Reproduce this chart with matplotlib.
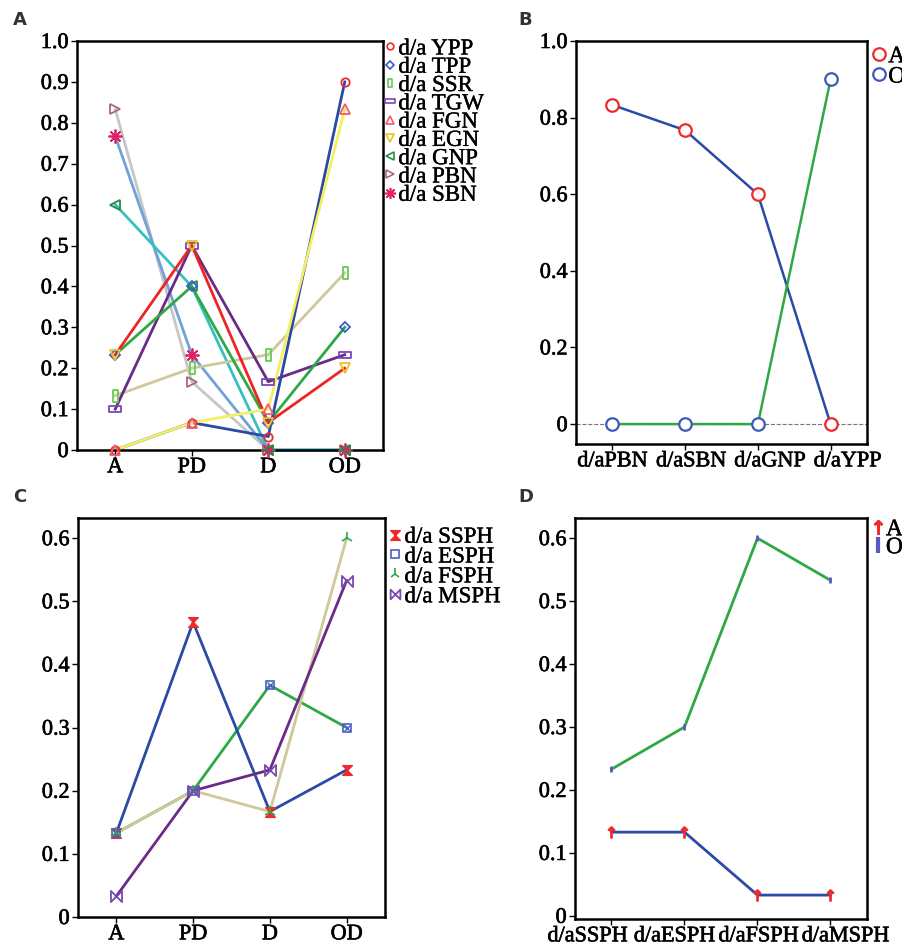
import numpy as np
import matplotlib
matplotlib.use('Agg')
import matplotlib.pyplot as plt
import matplotlib.patheffects as pe
import matplotlib.transforms as mtransforms
from matplotlib.lines import Line2D
from matplotlib.path import Path

plt.rcParams['font.family'] = ['Liberation Serif', 'DejaVu Serif']

# --- panel A / C categories
stages = ['A', 'PD', 'D', 'OD']

# --- panel A: d/a ratios per trait
a_labels = ['d/a YPP', 'd/a TPP', 'd/a SSR', 'd/a TGW', 'd/a FGN',
            'd/a EGN', 'd/a GNP', 'd/a PBN', 'd/a SBN']
ypp = [0.0, 0.067, 0.033, 0.9]
tpp = [0.233, 0.4, 0.067, 0.3]
ssr = [0.133, 0.2, 0.233, 0.433]
tgw = [0.1, 0.5, 0.167, 0.233]
fgn = [0.0, 0.067, 0.1, 0.833]
egn = [0.233, 0.5, 0.067, 0.2]
gnp = [0.6, 0.4, 0.0, 0.0]
pbn = [0.833, 0.167, 0.0, 0.0]
sbn = [0.767, 0.233, 0.0, 0.0]
a_ticks = [0, 0.1, 0.2, 0.3, 0.4, 0.5, 0.6, 0.7, 0.8, 0.9, 1.0]
a_ticklabels = ['0', '0.1', '0.2', '0.3', '0.4', '0.5', '0.6', '0.7', '0.8', '0.9', '1.0']

# --- panel B
b_cats = ['d/aPBN', 'd/aSBN', 'd/aGNP', 'd/aYPP']
b_A = [0.833, 0.767, 0.6, 0.0]
b_O = [0.0, 0.0, 0.0, 0.9]
b_ticks = [0, 0.2, 0.4, 0.6, 0.8, 1.0]
b_ticklabels = ['0', '0.2', '0.4', '0.6', '0.8', '1.0']

# --- panel C
c_labels = ['d/a SSPH', 'd/a ESPH', 'd/a FSPH', 'd/a MSPH']
ssph = [0.133, 0.467, 0.167, 0.233]
esph = [0.133, 0.2, 0.367, 0.3]
fsph = [0.133, 0.2, 0.167, 0.6]
msph = [0.033, 0.2, 0.233, 0.533]
c_ticks = [0, 0.1, 0.2, 0.3, 0.4, 0.5, 0.6]
c_ticklabels = ['0', '0.1', '0.2', '0.3', '0.4', '0.5', '0.6']

# --- panel D
d_cats = ['d/aSSPH', 'd/aESPH', 'd/aFSPH', 'd/aMSPH']
d_A = [0.133, 0.133, 0.033, 0.033]
d_O = [0.233, 0.3, 0.6, 0.533]

# custom marker shapes
tall_rect = Path([(-0.45, -1), (0.45, -1), (0.45, 1), (-0.45, 1), (-0.45, -1)],
                 [Path.MOVETO, Path.LINETO, Path.LINETO, Path.LINETO, Path.CLOSEPOLY])
wide_rect = Path([(-1, -0.45), (1, -0.45), (1, 0.45), (-1, 0.45), (-1, -0.45)],
                 [Path.MOVETO, Path.LINETO, Path.LINETO, Path.LINETO, Path.CLOSEPOLY])
hourglass = Path([(-1, 1), (1, 1), (-1, -1), (1, -1), (-1, 1)],
                 [Path.MOVETO, Path.LINETO, Path.LINETO, Path.LINETO, Path.CLOSEPOLY])
bowtie = Path([(-1, 1), (1, -1), (1, 1), (-1, -1), (-1, 1)],
              [Path.MOVETO, Path.LINETO, Path.LINETO, Path.LINETO, Path.CLOSEPOLY])

TICK_FS = 16
LEG_FS = 16.5
heavy = [pe.withStroke(linewidth=0.45, foreground='black')]


def style_axes(ax, xlabels, yticks, ylabels, ylim, xfs=TICK_FS, xshift=None):
    x = np.arange(len(xlabels))
    ax.set_xlim(-0.5, 3.5)
    ax.set_ylim(*ylim)
    ax.set_xticks(x)
    ax.set_xticklabels(xlabels, fontsize=xfs)
    ax.set_yticks(yticks)
    ax.set_yticklabels(ylabels, fontsize=TICK_FS)
    ax.tick_params(direction='out', length=4, width=1, pad=2)
    for t in ax.get_xticklabels() + ax.get_yticklabels():
        t.set_path_effects(heavy)
    # long category names sit spread a little wider than the ticks
    if xshift is not None:
        for t, dx in zip(ax.get_xticklabels(), xshift):
            off = mtransforms.ScaledTranslation(dx / 100.0, 0, ax.figure.dpi_scale_trans)
            t.set_transform(t.get_transform() + off)
    for sp in ax.spines.values():
        sp.set_linewidth(1.8)


def legend_heavy(leg):
    for t in leg.get_texts():
        t.set_path_effects([pe.withStroke(linewidth=0.3, foreground='black')])


fig = plt.figure(figsize=(9.03, 9.48), dpi=100)
W, H = 903.0, 948.0


def add_ax(l, t, r, b):
    return fig.add_axes([l / W, 1 - b / H, (r - l) / W, (b - t) / H])


# ---------------- panel A
axA = add_ax(77, 41, 383, 450)
xa = np.arange(len(stages))
a_series = [ypp, tpp, ssr, tgw, fgn, egn, gnp, pbn, sbn]
a_line_col = ['#2b4aa3', '#2ea844', '#cfc89a', '#6b2a87', '#f4ee62',
              '#ee2424', '#35c0c2', '#c6c6c6', '#6fa2da']
a_mark_col = ['#ee2a2a', '#3a5ad0', '#66cc55', '#7a48b0', '#f05a6a',
              '#f0c020', '#2a8a48', '#a86878', '#dd2266']
a_markers = ['o', 'D', tall_rect, wide_rect, '^', 'v', '<', '>', (8, 2, 0)]
a_msize = [6, 5, 8, 9, 7, 7, 7, 7, 10]
order = [7, 8, 6, 2, 3, 1, 5, 0, 4]
for i in order:
    axA.plot(xa, a_series[i], color=a_line_col[i], lw=2, zorder=2, clip_on=False)
    axA.plot(xa, a_series[i], ls='none', marker=a_markers[i], ms=a_msize[i],
             mfc='none', mec=a_mark_col[i], mew=1.3, zorder=3, clip_on=False)
style_axes(axA, stages, a_ticks, a_ticklabels, (0, 1.0))
hA = [Line2D([], [], ls='none', marker=a_markers[i], ms=a_msize[i] * 0.8,
             mfc='none', mec=a_mark_col[i], mew=1.2) for i in range(len(a_labels))]
legA = axA.legend(hA, a_labels, loc='upper left', bbox_to_anchor=(1.0, 1.012),
                  frameon=False, fontsize=LEG_FS, handlelength=0.45, handletextpad=0.12,
                  labelspacing=-0.12, borderpad=0, borderaxespad=0.1)
legend_heavy(legA)

# ---------------- panel B
axB = add_ax(576, 41, 867, 444)
xb = np.arange(len(b_cats))
axB.axhline(0, color='#777777', lw=0.8, ls='--', zorder=1)
axB.plot(xb, b_A, color='#2b4aa3', lw=1.8, zorder=2)
axB.plot(xb, b_O, color='#2ea844', lw=1.8, zorder=2)
axB.plot(xb, b_A, ls='none', marker='o', ms=9, mfc='white', mec='#ee2a2a', mew=1.6, zorder=3)
axB.plot(xb, b_O, ls='none', marker='o', ms=9, mfc='white', mec='#3a5ab8', mew=1.6, zorder=3)
style_axes(axB, b_cats, b_ticks, b_ticklabels, (-0.052, 1.0), xfs=16,
           xshift=[0, 6, 12, 17])
hB = [Line2D([], [], ls='none', marker='o', ms=9, mfc='none', mec=c, mew=1.6)
      for c in ['#ee2a2a', '#3a5ab8']]
legB = axB.legend(hB, ['A', 'O'], loc='upper left', bbox_to_anchor=(1.0, 1.0),
                  frameon=False, fontsize=17, handlelength=0.6, handletextpad=0.1,
                  labelspacing=-0.05, borderpad=0, borderaxespad=0.2)
legend_heavy(legB)

# ---------------- panel C
axC = add_ax(78, 518, 385, 917)
xc = np.arange(len(stages))
c_series = [ssph, esph, fsph, msph]
c_line_col = ['#2b4aa3', '#2ea844', '#cfc89a', '#6b2a87']
c_mark_col = ['#ee2a2a', '#4a5ec8', '#2ea844', '#7a48b0']
for i in [1, 2, 0, 3]:
    axC.plot(xc, c_series[i], color=c_line_col[i], lw=2, zorder=2)
axC.plot(xc, ssph, ls='none', marker=hourglass, ms=7, color=c_mark_col[0], mew=1, zorder=3)
axC.plot(xc, esph, ls='none', marker='s', ms=6, mfc='none', mec=c_mark_col[1], mew=1.2, zorder=3)
axC.plot(xc, esph, ls='none', marker='x', ms=5, mec=c_mark_col[1], mew=1, zorder=3)
axC.plot(xc, fsph, ls='none', marker='2', ms=9, mec=c_mark_col[2], mew=1.2, zorder=3)
axC.plot(xc, msph, ls='none', marker=bowtie, ms=8, mfc='none', mec=c_mark_col[3], mew=1.3, zorder=3)
style_axes(axC, stages, c_ticks, c_ticklabels, (0, 0.632))
hC = [Line2D([], [], ls='none', marker=hourglass, ms=7, color=c_mark_col[0]),
      Line2D([], [], ls='none', marker='s', ms=6, mfc='none', mec=c_mark_col[1], mew=1.2),
      Line2D([], [], ls='none', marker='2', ms=8, mec=c_mark_col[2], mew=1.2),
      Line2D([], [], ls='none', marker=bowtie, ms=7, mfc='none', mec=c_mark_col[3], mew=1.3)]
legC = axC.legend(hC, c_labels, loc='upper left', bbox_to_anchor=(1.0, 0.99),
                  frameon=False, fontsize=16.5, handlelength=0.5, handletextpad=0.15,
                  labelspacing=-0.05, borderpad=0, borderaxespad=0.2)
legend_heavy(legC)

# ---------------- panel D
axD = add_ax(575, 518, 867, 919)
xd = np.arange(len(d_cats))
axD.plot(xd, d_A, color='#2b4aa3', lw=2, zorder=2)
axD.plot(xd, d_O, color='#2ea844', lw=2, zorder=2)
axD.plot(xd, d_A, ls='none', marker=r'$\uparrow$', ms=8, color='#ee2a2a', zorder=3)
axD.plot(xd, d_O, ls='none', marker='|', ms=5, mew=2, color='#5a5ac0', zorder=3)
style_axes(axD, d_cats, c_ticks, c_ticklabels, (-0.005, 0.632), xfs=16,
           xshift=[-24, -10, 1, 15])
hD = [Line2D([], [], ls='none', marker=r'$\uparrow$', ms=10, color='#ee2a2a'),
      Line2D([], [], ls='none', marker='|', ms=12, mew=3, color='#5a5ac0')]
legD = axD.legend(hD, ['A', 'O'], loc='upper left', bbox_to_anchor=(1.0, 1.01),
                  frameon=False, fontsize=17, handlelength=0.5, handletextpad=0.1,
                  labelspacing=-0.15, borderpad=0, borderaxespad=0.2)
legend_heavy(legD)

# panel letters
for lab, (px, py) in zip(['A', 'B', 'C', 'D'], [(13, 20), (518, 20), (13, 497), (518, 497)]):
    fig.text(px / W, 1 - py / H, lab, fontsize=13, fontweight='bold',
             family='DejaVu Sans', color='#333333', va='center', ha='left')

fig.savefig('out.png', dpi=100, facecolor='white')
